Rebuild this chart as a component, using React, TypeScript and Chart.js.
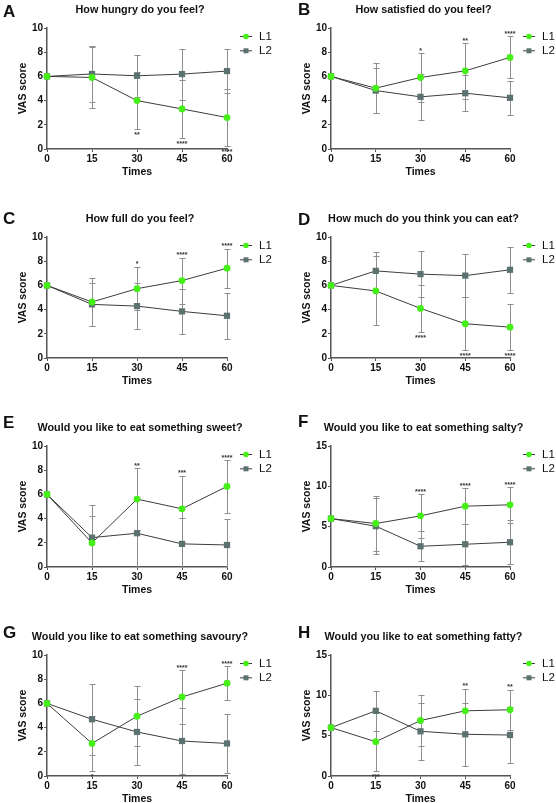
import React, { useEffect, useRef } from "react";
import { Chart, registerables } from "chart.js";

Chart.register(...registerables);

// ---------- data ----------
const times = [0, 15, 30, 45, 60];
const seriesLabels = ["L1", "L2"];

const aL1 = [6, 5.91, 4.0, 3.31, 2.6];
const aL1sd = [0, 2.5, 2.35, 2.4, 2.35];
const aL2 = [6, 6.2, 6.05, 6.19, 6.44];
const aL2sd = [0, 2.3, 1.75, 2.1, 1.85];
const aStars = ["", "", "**", "****", "****"];
const aStarPos = ["", "", "below", "below", "below"];

const bL1 = [6, 5.03, 5.91, 6.46, 7.57];
const bL1sd = [0, 2.07, 2.0, 2.3, 1.74];
const bL2 = [6, 4.83, 4.31, 4.61, 4.23];
const bL2sd = [0, 1.85, 1.92, 1.47, 1.38];
const bStars = ["", "", "*", "**", "****"];
const bStarPos = ["", "", "above", "above", "above"];

const cL1 = [6, 4.63, 5.73, 6.4, 7.42];
const cL1sd = [0, 1.95, 1.8, 1.9, 1.6];
const cL2 = [6, 4.43, 4.29, 3.85, 3.49];
const cL2sd = [0, 1.78, 1.9, 1.85, 1.9];
const cStars = ["", "", "*", "****", "****"];
const cStarPos = ["", "", "above", "above", "above"];

const dL1 = [6, 5.54, 4.1, 2.83, 2.55];
const dL1sd = [0, 2.85, 1.97, 2.2, 1.9];
const dL2 = [6, 7.2, 6.93, 6.81, 7.29];
const dL2sd = [0, 1.55, 1.9, 1.75, 1.88];
const dStars = ["", "", "****", "****", "****"];
const dStarPos = ["", "", "below", "below", "below"];

const eL1 = [6, 1.99, 5.61, 4.81, 6.66];
const eL1sd = [0, 2.25, 2.57, 2.72, 2.16];
const eL2 = [6, 2.43, 2.79, 1.91, 1.82];
const eL2sd = [0, 2.7, 3.0, 2.15, 2.16];
const eStars = ["", "", "**", "***", "****"];
const eStarPos = ["", "", "above", "above", "above"];

const fL1 = [6, 5.39, 6.34, 7.54, 7.71];
const fL1sd = [0, 3.4, 2.7, 2.25, 2.2];
const fL2 = [6, 5.06, 2.57, 2.82, 3.07];
const fL2sd = [0, 3.5, 1.85, 2.55, 2.72];
const fStars = ["", "", "****", "****", "****"];
const fStarPos = ["", "", "above", "above", "above"];

const gL1 = [6, 2.69, 4.94, 6.53, 7.67];
const gL1sd = [0, 2.27, 2.5, 2.2, 1.4];
const gL2 = [6, 4.69, 3.64, 2.89, 2.69];
const gL2sd = [0, 2.92, 2.72, 2.75, 2.47];
const gStars = ["", "*", "", "****", "****"];
const gStarPos = ["", "below", "", "above", "above"];

const hL1 = [6, 4.25, 6.88, 8.08, 8.21];
const hL1sd = [0, 3.6, 3.17, 2.75, 2.5];
const hL2 = [6, 8.08, 5.54, 5.17, 5.08];
const hL2sd = [0, 2.5, 3.55, 3.9, 3.45];
const hStars = ["", "***", "", "**", "**"];
const hStarPos = ["", "below", "", "above", "above"];

const titles = [
  "How hungry do you feel?",
  "How satisfied do you feel?",
  "How full do you feel?",
  "How much do you think you can eat?",
  "Would you like to eat something sweet?",
  "Would you like to eat something salty?",
  "Would you like to eat something savoury?",
  "Would you like to eat something fatty?",
];
const letters = ["A", "B", "C", "D", "E", "F", "G", "H"];
const yMaxes = [10, 10, 10, 10, 10, 15, 10, 15];
const ySteps = [2, 2, 2, 2, 2, 5, 2, 5];
const xTitle = "Times";
const yTitle = "VAS score";

// ---------- style ----------
const FONT = '"Liberation Sans", Arial, Helvetica, sans-serif';
const GREEN = "#45f016";
const SLATE = "#5b7271";
const LINE = "#3d3d3d";
const ERR = "#8e8e8e";
const AXIS = "#555555";
const TOPPAD = 10;
const ROW_H = 209;
const COL_W = 278;

type PanelDef = {
  idx: number;
  l1: number[];
  l1sd: number[];
  l2: number[];
  l2sd: number[];
  stars: string[];
  starPos: string[];
};

const panels: PanelDef[] = [
  { idx: 0, l1: aL1, l1sd: aL1sd, l2: aL2, l2sd: aL2sd, stars: aStars, starPos: aStarPos },
  { idx: 1, l1: bL1, l1sd: bL1sd, l2: bL2, l2sd: bL2sd, stars: bStars, starPos: bStarPos },
  { idx: 2, l1: cL1, l1sd: cL1sd, l2: cL2, l2sd: cL2sd, stars: cStars, starPos: cStarPos },
  { idx: 3, l1: dL1, l1sd: dL1sd, l2: dL2, l2sd: dL2sd, stars: dStars, starPos: dStarPos },
  { idx: 4, l1: eL1, l1sd: eL1sd, l2: eL2, l2sd: eL2sd, stars: eStars, starPos: eStarPos },
  { idx: 5, l1: fL1, l1sd: fL1sd, l2: fL2, l2sd: fL2sd, stars: fStars, starPos: fStarPos },
  { idx: 6, l1: gL1, l1sd: gL1sd, l2: gL2, l2sd: gL2sd, stars: gStars, starPos: gStarPos },
  { idx: 7, l1: hL1, l1sd: hL1sd, l2: hL2, l2sd: hL2sd, stars: hStars, starPos: hStarPos },
];

// letter baseline offsets within each row
const letterBase = [17, 15, 15, 16, 10, 9, 11, 11];

const errorBarPlugin = {
  id: "errorBars",
  beforeDatasetsDraw(chart: any) {
    const { ctx, chartArea, scales } = chart;
    const x = scales.x;
    const y = scales.y;
    ctx.save();
    ctx.beginPath();
    ctx.rect(chartArea.left - 6, chartArea.top - 20, chartArea.width + 12, chartArea.height + 20);
    ctx.clip();
    ctx.strokeStyle = ERR;
    ctx.lineWidth = 1;
    chart.data.datasets.forEach((ds: any) => {
      ds.data.forEach((pt: any, i: number) => {
        const sd = ds.errors[i];
        if (!sd) return;
        const px = Math.round(x.getPixelForValue(pt.x)) + 0.5;
        const hiV = pt.y + sd;
        const loV = pt.y - sd;
        const yHi = Math.round(y.getPixelForValue(hiV)) + 0.5;
        const yLo = Math.round(y.getPixelForValue(Math.max(0, loV))) + 0.5;
        ctx.beginPath();
        ctx.moveTo(px, yHi);
        ctx.lineTo(px, yLo);
        ctx.moveTo(px - 3, yHi);
        ctx.lineTo(px + 3, yHi);
        if (loV > 0) {
          ctx.moveTo(px - 3, yLo);
          ctx.lineTo(px + 3, yLo);
        }
        ctx.stroke();
      });
    });
    ctx.restore();
  },
};

function makeDecorPlugin(p: PanelDef) {
  return {
    id: "decor",
    afterDraw(chart: any) {
      const { ctx, chartArea, scales } = chart;
      const x = scales.x;
      const y = scales.y;
      const col = p.idx % 2;
      ctx.save();
      ctx.fillStyle = "#111";
      // letter
      ctx.font = `bold 17px ${FONT}`;
      ctx.textAlign = "left";
      ctx.textBaseline = "alphabetic";
      ctx.fillText(letters[p.idx], col === 0 ? 3 : 20, TOPPAD + letterBase[p.idx]);
      // title
      ctx.font = `bold 10.8px ${FONT}`;
      ctx.textAlign = "center";
      ctx.textBaseline = "middle";
      const cx = (chartArea.left + chartArea.right) / 2 + 3;
      ctx.fillText(titles[p.idx], cx, TOPPAD + 10.5);
      // axis titles
      ctx.font = `bold 10.5px ${FONT}`;
      ctx.fillText(xTitle, (chartArea.left + chartArea.right) / 2, chartArea.bottom + 23);
      ctx.save();
      ctx.translate(col === 0 ? 23 : 29, (chartArea.top + chartArea.bottom) / 2);
      ctx.rotate(-Math.PI / 2);
      ctx.fillText(yTitle, 0, 0);
      ctx.restore();
      // legend
      const lx = chartArea.right + 13;
      [0, 1].forEach((k) => {
        const ly = chartArea.top + 8.5 + k * 14.3;
        ctx.strokeStyle = LINE;
        ctx.lineWidth = 1;
        ctx.beginPath();
        ctx.moveTo(lx, ly);
        ctx.lineTo(lx + 12, ly);
        ctx.stroke();
        if (k === 0) {
          ctx.fillStyle = GREEN;
          ctx.beginPath();
          ctx.arc(lx + 6, ly, 2.8, 0, Math.PI * 2);
          ctx.fill();
        } else {
          ctx.fillStyle = SLATE;
          ctx.fillRect(lx + 3.5, ly - 2.5, 5, 5);
        }
        ctx.fillStyle = "#111";
        ctx.font = `11.5px ${FONT}`;
        ctx.textAlign = "left";
        ctx.textBaseline = "middle";
        ctx.fillText(seriesLabels[k], lx + 19, ly + 0.5);
      });
      // significance stars
      ctx.fillStyle = "#333";
      ctx.font = `bold 7px ${FONT}`;
      ctx.textAlign = "center";
      ctx.textBaseline = "alphabetic";
      p.stars.forEach((s, i) => {
        if (!s) return;
        const px = x.getPixelForValue(times[i]);
        if (p.starPos[i] === "above") {
          const top = Math.max(p.l1[i] + p.l1sd[i], p.l2[i] + p.l2sd[i]);
          ctx.fillText(s, px, y.getPixelForValue(top) - 0.5);
        } else {
          const low = Math.max(0, Math.min(p.l1[i] - p.l1sd[i], p.l2[i] - p.l2sd[i]));
          ctx.fillText(s, px, y.getPixelForValue(low) + 8);
        }
      });
      ctx.restore();
    },
  };
}

function PanelChart({ p }: { p: PanelDef }) {
  const ref = useRef<HTMLCanvasElement>(null);
  const col = p.idx % 2;
  const row = Math.floor(p.idx / 2);
  const top = row * ROW_H - TOPPAD;
  const H = row === 3 ? 803 - top : ROW_H + TOPPAD;
  const W = COL_W;

  useEffect(() => {
    const canvas = ref.current!;
    const yW = col === 0 ? 47 : 53;
    const plotRight = col === 0 ? 227 : 232;
    const plotTop = TOPPAD + 28;
    const plotBottom = TOPPAD + 149;
    const tickFont = { family: FONT, size: 10, weight: "bold" as const };
    const chart = new Chart(canvas, {
      type: "line",
      data: {
        datasets: [
          {
            label: seriesLabels[0],
            data: times.map((t, i) => ({ x: t, y: p.l1[i] })),
            errors: p.l1sd,
            borderColor: LINE,
            borderWidth: 1,
            pointStyle: "circle",
            pointRadius: 3.4,
            pointBackgroundColor: GREEN,
            pointBorderColor: GREEN,
            pointBorderWidth: 0,
            clip: false,
            tension: 0,
          } as any,
          {
            label: seriesLabels[1],
            data: times.map((t, i) => ({ x: t, y: p.l2[i] })),
            errors: p.l2sd,
            borderColor: LINE,
            borderWidth: 1,
            pointStyle: "rect",
            pointRadius: 4.4,
            pointBackgroundColor: SLATE,
            pointBorderColor: SLATE,
            pointBorderWidth: 0,
            clip: false,
            tension: 0,
          } as any,
        ],
      },
      options: {
        responsive: false,
        animation: false,
        maintainAspectRatio: false,
        layout: { padding: { left: 0, right: W - plotRight, top: plotTop, bottom: 0 } },
        plugins: {
          legend: { display: false },
          title: { display: false },
          tooltip: { enabled: false },
        },
        events: [],
        scales: {
          x: {
            type: "linear",
            min: 0,
            max: 60,
            ticks: {
              stepSize: 15,
              font: tickFont,
              color: "#111",
              padding: 1,
              maxRotation: 0,
              autoSkip: false,
            },
            grid: { drawOnChartArea: false, tickLength: 3, tickColor: AXIS, tickWidth: 1 },
            border: { color: AXIS, width: 1.5 },
            afterFit: (s: any) => {
              s.height = H - plotBottom;
            },
          },
          y: {
            type: "linear",
            min: 0,
            max: yMaxes[p.idx],
            ticks: {
              stepSize: ySteps[p.idx],
              font: tickFont,
              color: "#111",
              padding: 1,
            },
            grid: { drawOnChartArea: false, tickLength: 3, tickColor: AXIS, tickWidth: 1 },
            border: { color: AXIS, width: 1.5 },
            afterFit: (s: any) => {
              s.width = yW;
            },
          },
        },
      } as any,
      plugins: [errorBarPlugin, makeDecorPlugin(p)],
    });
    return () => chart.destroy();
  }, []);

  return (
    <canvas
      ref={ref}
      width={W}
      height={H}
      style={{ position: "absolute", left: col * COL_W, top, width: W, height: H }}
    />
  );
}

export default function App() {
  return (
    <div
      style={{
        position: "absolute",
        left: 0,
        top: 0,
        width: 556,
        height: 803,
        background: "#ffffff",
        overflow: "hidden",
      }}
    >
      {panels.map((p) => (
        <PanelChart key={p.idx} p={p} />
      ))}
    </div>
  );
}
